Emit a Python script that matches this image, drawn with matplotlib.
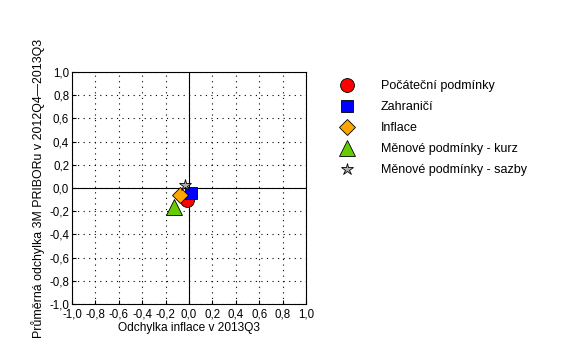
import matplotlib
matplotlib.use("Agg")
import matplotlib.pyplot as plt
import numpy as np

plt.rcParams['font.family'] = ['Liberation Sans', 'DejaVu Sans']

labels = ["Počáteční podmínky", "Zahraničí", "Inflace", "Měnové podmínky - kurz", "Měnové podmínky - sazby"]
x_vals = [-0.02, 0.015, -0.075, -0.125, -0.03]
y_vals = [-0.10, -0.045, -0.06, -0.165, 0.03]
markers = ['o', 's', 'D', '^', '*']
colors = ['#ff0000', '#0000ff', '#ffa500', '#66cc00', '#b0b0b0']
sizes = [10, 9, 8, 11, 9]
ticks = [-1.0, -0.8, -0.6, -0.4, -0.2, 0.0, 0.2, 0.4, 0.6, 0.8, 1.0]
tick_labels = [f"{t:.1f}".replace('.', ',') for t in ticks]

fig = plt.figure(figsize=(5.81, 3.6), dpi=100)
ax = fig.add_axes([72/581, 1-304/360, 234/581, 232/360])
ax.set_xlim(-1, 1)
ax.set_ylim(-1, 1)
ax.set_xticks(ticks)
ax.set_yticks(ticks)
ax.set_xticklabels(tick_labels, fontsize=8.3)
ax.set_yticklabels(tick_labels, fontsize=8.3)
ax.tick_params(axis='y', direction='in', length=3, width=0.8, pad=2)
ax.tick_params(axis='x', direction='in', length=3, width=0.8, pad=3)
ax.grid(True, color='black', linestyle=(0, (1, 4)), linewidth=0.8)
ax.axhline(0, color='black', linewidth=0.8, zorder=2)
ax.axvline(0, color='black', linewidth=0.8, zorder=2)
for s in ax.spines.values():
    s.set_linewidth(0.8)

handles = []
for i in range(len(labels)):
    h, = ax.plot([x_vals[i]], [y_vals[i]], linestyle='none', marker=markers[i],
                 markersize=sizes[i], markerfacecolor=colors[i], markeredgecolor='black',
                 markeredgewidth=0.6, label=labels[i], zorder=3 + i)
    handles.append(h)

ax.set_xlabel("Odchylka inflace v 2013Q3", fontsize=8.6, labelpad=1)
ax.set_ylabel("Průměrná odchylka 3M PRIBORu v 2012Q4\u20142013Q3", fontsize=8.9, labelpad=3)

fig.legend(handles=handles, labels=labels, loc='upper left', bbox_to_anchor=(329/581, 1-75/360),
           frameon=False, fontsize=9, handletextpad=1.75, labelspacing=0.72, borderaxespad=0)

fig.savefig("out.png", dpi=100)
